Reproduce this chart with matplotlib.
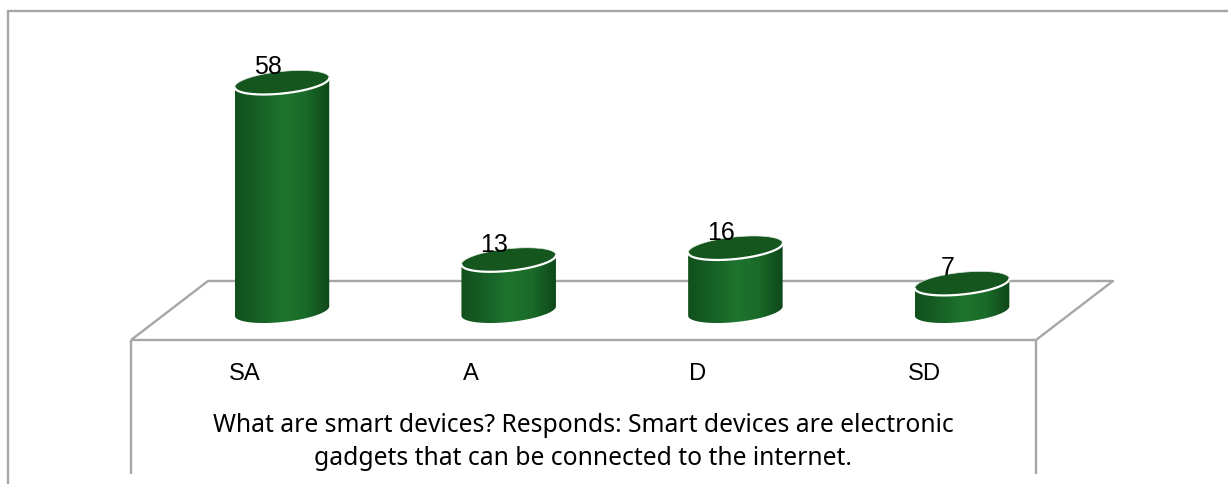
import numpy as np
import matplotlib
matplotlib.use('Agg')
import matplotlib.pyplot as plt
from matplotlib.colors import LinearSegmentedColormap
from matplotlib.patches import PathPatch
from matplotlib.path import Path

categories = ['SA', 'A', 'D', 'SD']
values = [58, 13, 16, 7]
title_lines = ['What are smart devices? Responds: Smart devices are electronic',
               'gadgets that can be connected to the internet.']

plt.rcParams['font.family'] = ['Liberation Sans', 'DejaVu Sans']

W, H = 1228, 485
px_x = 226.7      # pixels per category
px_y = 3.94       # pixels per unit of value
x0 = 282.0        # pixel position of the first category
y0 = 312.0        # pixel position of value 0
rx, ry, tilt = 47.5, 11.0, -6.0

fig = plt.figure(figsize=(W / 100, H / 100), dpi=100)
ax = fig.add_axes([0, 0, 1, 1])


def dx(p):
    return p / px_x


def dy(p):
    return -p / px_y


def ellipse(cx, v):
    t = np.linspace(0, 2 * np.pi, 120)
    a = np.radians(tilt)
    ex = rx * np.cos(t)
    ey = ry * np.sin(t)
    px = ex * np.cos(a) - ey * np.sin(a)
    py = ex * np.sin(a) + ey * np.cos(a)
    return cx + dx(px), v + dy(py), t


side_cmap = LinearSegmentedColormap.from_list(
    'side', ['#11501c', '#176026', '#1e742e', '#1a6a29', '#0f481a'])
grad = np.linspace(0, 1, 200).reshape(1, -1)
grey = '#a6a6a6'


# chart frame and floor, placed by category / value position
def line(xs, ys, lw=1.7, z=1):
    ax.plot([(x - x0) / px_x for x in xs], [(y0 - y) / px_y for y in ys],
            color=grey, lw=lw, zorder=z, solid_capstyle='butt')


line([8, 8, 1228], [485, 11.5, 11.5])
line([131, 208, 1113, 1036, 131], [341, 282, 282, 341, 341])
line([131, 131], [341, 475])
line([1036, 1036], [341, 475])

for i, (cat, v) in enumerate(zip(categories, values)):
    ex, ey, t = ellipse(i, v)
    bx, by, _ = ellipse(i, 0)

    # body outline: lower half of the base ellipse, then up to the top ellipse
    left = bx.min()
    right = bx.max()
    lower = (t > 0) & (t < np.pi)
    vx = np.r_[bx[lower], left, ex[np.argmin(ex)], ex[np.argmax(ex)], right]
    vy = np.r_[by[lower], by[np.argmin(bx)], ey[np.argmin(ex)], ey[np.argmax(ex)], by[np.argmax(bx)]]
    body = PathPatch(Path(np.c_[vx, vy]), fc='none', ec='none', transform=ax.transData)
    ax.add_patch(body)
    im = ax.imshow(grad, extent=[left, right, -10, v + 5], aspect='auto',
                   cmap=side_cmap, zorder=3, interpolation='bilinear')
    im.set_clip_path(body)

    ax.fill(ex, ey, color='#14561e', lw=0, zorder=4)
    ax.plot(ex, ey, color='#dfe8df', lw=0.5, zorder=5)
    ax.plot(ex[lower], ey[lower], color='white', lw=1.6, zorder=5,
            solid_capstyle='round')

    ax.annotate(str(v), (i, v), xytext=(-14.5 * 0.72, 16 * 0.72), textcoords='offset points',
                ha='center', va='center', fontsize=18, color='black', zorder=6)
    ax.annotate(cat, (i, 0), xytext=(-37.5 * 0.72, -61.5 * 0.72), textcoords='offset points',
                ha='center', va='center', fontsize=17.1, color='black')

for k, s in enumerate(title_lines):
    ax.text((583 - x0) / px_x, (y0 - (426 + 33 * k)) / px_y, s, ha='center', va='center',
            fontsize=17.75, color='black', family=['Noto Sans', 'DejaVu Sans'])

ax.set_xlim((0 - x0) / px_x, (W - x0) / px_x)
ax.set_ylim((y0 - H) / px_y, y0 / px_y)
ax.axis('off')

fig.savefig('out.png', dpi=100, facecolor='white')
